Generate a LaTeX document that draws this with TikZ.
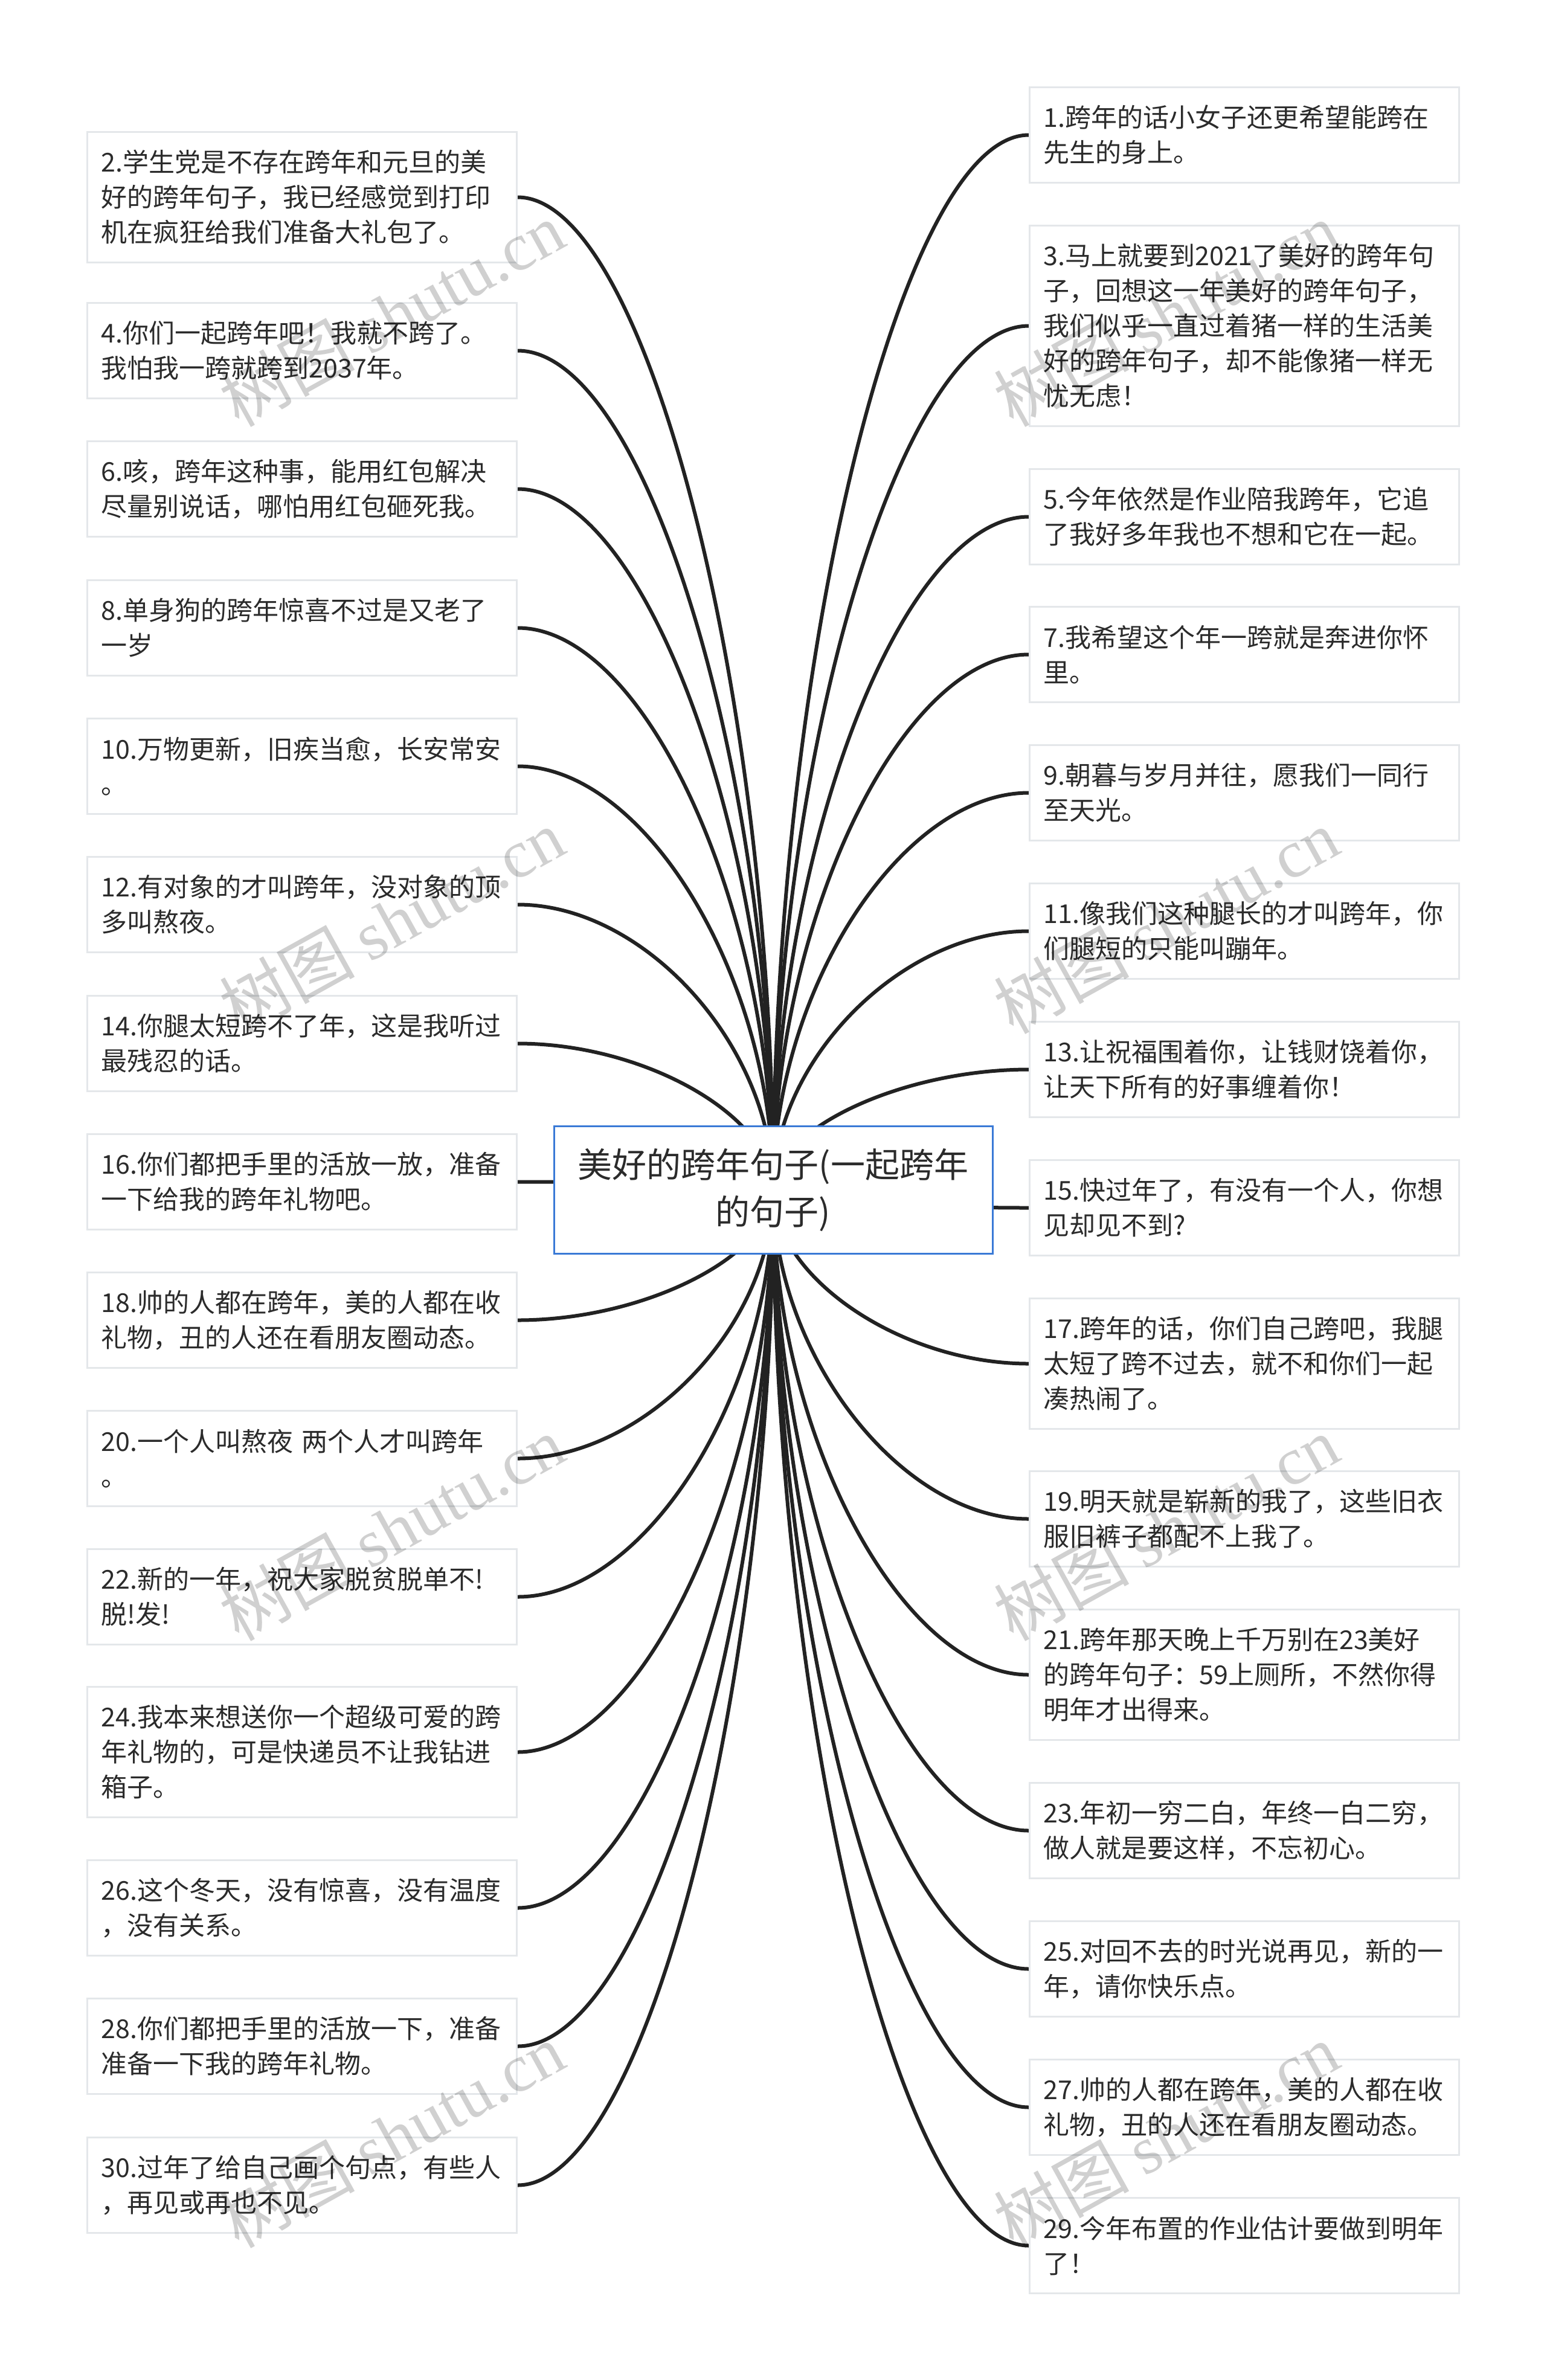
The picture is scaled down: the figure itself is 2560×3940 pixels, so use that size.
\documentclass[tikz,border=0pt]{standalone}
\usepackage{fontspec}
\setmainfont{Noto Sans CJK SC}
\newfontfamily\wmserif{Liberation Serif}
\usetikzlibrary{calc,backgrounds}
\definecolor{boxline}{HTML}{E4E7EA}
\definecolor{txt}{HTML}{2B2B2B}
\definecolor{conncol}{HTML}{222222}
\definecolor{rootblue}{HTML}{3A7AD6}
\definecolor{wmgray}{HTML}{D0D0D0}
\tikzset{
  boxbase/.style={draw=boxline, line width=3pt, fill=white, anchor=north west,
    text width=665pt, inner xsep=23pt, inner ysep=0pt, align=left,
    font=\fontsize{43}{58}\selectfont, text=txt},
  h2/.style={minimum height=158pt},
  h3/.style={minimum height=216pt},
  h5/.style={minimum height=332pt},
  rootbox/.style={draw=rootblue, line width=3pt, fill=white, minimum width=726pt,
    minimum height=211pt, align=center, inner sep=0pt,
    font=\fontsize{57}{78}\selectfont, text=txt},
  conn/.style={draw=conncol, line width=6pt},
  wm/.style={rotate=29, text=wmgray, inner sep=0pt, font=\fontsize{112}{112}\selectfont}
}
\newcommand\linkto[2]{\draw[conn] (c.center) .. controls ($(c.center)!0.5!(c.center|-#1.#2)$) and ($(#1.#2)!0.5!(#1.#2-|c.center)$) .. (#1.#2);}
\begin{document}
\begin{tikzpicture}[x=1pt,y=-1pt]
\useasboundingbox (0,0) rectangle (2560,3940);
% root
\node[rootbox] (c) at (1280,1970) {美好的跨年句子(一起跨年\\的句子)};
% left column
\node[boxbase,h3] (b2) at (143,217) {2.学生党是不存在跨年和元旦的美\\好的跨年句子，我已经感觉到打印\\机在疯狂给我们准备大礼包了。};
\node[boxbase,h2] (b4) at (143,500) {4.你们一起跨年吧！我就不跨了。\\我怕我一跨就跨到2037年。};
\node[boxbase,h2] (b6) at (143,729) {6.咳，跨年这种事，能用红包解决\\尽量别说话，哪怕用红包砸死我。};
\node[boxbase,h2] (b8) at (143,959) {8.单身狗的跨年惊喜不过是又老了\\一岁};
\node[boxbase,h2] (b10) at (143,1188) {10.万物更新，旧疾当愈，长安常安\\。};
\node[boxbase,h2] (b12) at (143,1417) {12.有对象的才叫跨年，没对象的顶\\多叫熬夜。};
\node[boxbase,h2] (b14) at (143,1647) {14.你腿太短跨不了年，这是我听过\\最残忍的话。};
\node[boxbase,h2] (b16) at (143,1876) {16.你们都把手里的活放一放，准备\\一下给我的跨年礼物吧。};
\node[boxbase,h2] (b18) at (143,2105) {18.帅的人都在跨年，美的人都在收\\礼物，丑的人还在看朋友圈动态。};
\node[boxbase,h2] (b20) at (143,2334) {20.一个人叫熬夜 两个人才叫跨年\\。};
\node[boxbase,h2] (b22) at (143,2563) {22.新的一年，祝大家脱贫脱单不!\\脱!发!};
\node[boxbase,h3] (b24) at (143,2791) {24.我本来想送你一个超级可爱的跨\\年礼物的，可是快递员不让我钻进\\箱子。};
\node[boxbase,h2] (b26) at (143,3078) {26.这个冬天，没有惊喜，没有温度\\，没有关系。};
\node[boxbase,h2] (b28) at (143,3307) {28.你们都把手里的活放一下，准备\\准备一下我的跨年礼物。};
\node[boxbase,h2] (b30) at (143,3537) {30.过年了给自己画个句点，有些人\\，再见或再也不见。};
% right column
\node[boxbase,h2] (b1) at (1703,143) {1.跨年的话小女子还更希望能跨在\\先生的身上。};
\node[boxbase,h5] (b3) at (1703,372) {3.马上就要到2021了美好的跨年句\\子，回想这一年美好的跨年句子，\\我们似乎一直过着猪一样的生活美\\好的跨年句子，却不能像猪一样无\\忧无虑！};
\node[boxbase,h2] (b5) at (1703,775) {5.今年依然是作业陪我跨年，它追\\了我好多年我也不想和它在一起。};
\node[boxbase,h2] (b7) at (1703,1003) {7.我希望这个年一跨就是奔进你怀\\里。};
\node[boxbase,h2] (b9) at (1703,1232) {9.朝暮与岁月并往，愿我们一同行\\至天光。};
\node[boxbase,h2] (b11) at (1703,1461) {11.像我们这种腿长的才叫跨年，你\\们腿短的只能叫蹦年。};
\node[boxbase,h2] (b13) at (1703,1690) {13.让祝福围着你，让钱财饶着你，\\让天下所有的好事缠着你！};
\node[boxbase,h2] (b15) at (1703,1919) {15.快过年了，有没有一个人，你想\\见却见不到?};
\node[boxbase,h3] (b17) at (1703,2148) {17.跨年的话，你们自己跨吧，我腿\\太短了跨不过去，就不和你们一起\\凑热闹了。};
\node[boxbase,h2] (b19) at (1703,2434) {19.明天就是崭新的我了，这些旧衣\\服旧裤子都配不上我了。};
\node[boxbase,h3] (b21) at (1703,2663) {21.跨年那天晚上千万别在23美好\\的跨年句子：59上厕所，不然你得\\明年才出得来。};
\node[boxbase,h2] (b23) at (1703,2950) {23.年初一穷二白，年终一白二穷，\\做人就是要这样，不忘初心。};
\node[boxbase,h2] (b25) at (1703,3179) {25.对回不去的时光说再见，新的一\\年，请你快乐点。};
\node[boxbase,h2] (b27) at (1703,3408) {27.帅的人都在跨年，美的人都在收\\礼物，丑的人还在看朋友圈动态。};
\node[boxbase,h2] (b29) at (1703,3637) {29.今年布置的作业估计要做到明年\\了！};
% connectors
\begin{scope}[on background layer]
\fill[white] (0,0) rectangle (2560,3940);
\foreach \n in {2,4,...,30} {\linkto{b\n}{east}}
\foreach \n in {1,3,...,29} {\linkto{b\n}{west}}
\end{scope}
% watermarks
\begin{scope}[blend mode=multiply]
\foreach \x/\k in {648/l,1930/r} {
  \foreach \y/\m in {520/1,1525/2,2530/3,3535/4} {
    \node[wm] (wm\k\m) at (\x,\y) {树图 {\wmserif shutu.cn}};
  }
}
\end{scope}
\end{tikzpicture}
\end{document}
